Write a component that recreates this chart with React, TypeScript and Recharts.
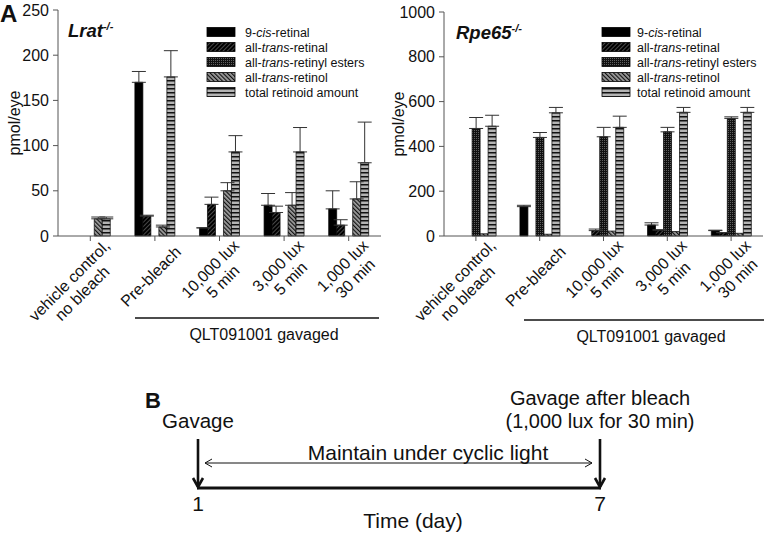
import React from 'react';
import { BarChart, Bar, XAxis, YAxis, ErrorBar, Legend } from 'recharts';

const FONT = "'Liberation Sans', Arial, Helvetica, sans-serif";

// ---------- data ----------
const categories = ['vehicle control,|no bleach', 'Pre-bleach', '10,000 lux|5 min', '3,000 lux|5 min', '1,000 lux|30 min'];
const seriesKeys = ['cis', 'trans', 'esters', 'retinol', 'total'];
const seriesNames = ['9-*cis*-retinal', 'all-*trans*-retinal', 'all-*trans*-retinyl esters', 'all-*trans*-retinol', 'total retinoid amount'];

// Lrat-/-
const lratCis = [0, 170, 9, 34, 30];
const lratCisErr = [0, 12, 0, 13, 20];
const lratTrans = [0, 22, 35, 26, 12];
const lratTransErr = [0, 1, 8, 7, 6];
const lratEsters = [0, 0, 0, 0, 0];
const lratEstersErr = [0, 0, 0, 0, 0];
const lratRetinol = [19, 10, 50, 34, 41];
const lratRetinolErr = [2, 2, 9, 14, 19];
const lratTotal = [19, 176, 93, 93, 81];
const lratTotalErr = [2, 29, 18, 27, 45];

// Rpe65-/-
const rpeCis = [0, 131, 0, 49, 24];
const rpeCisErr = [0, 6, 0, 10, 2];
const rpeTrans = [0, 0, 24, 27, 15];
const rpeTransErr = [0, 0, 7, 0, 0];
const rpeEsters = [480, 440, 443, 465, 525];
const rpeEstersErr = [49, 22, 42, 20, 7];
const rpeRetinol = [10, 8, 22, 20, 12];
const rpeRetinolErr = [0, 0, 0, 0, 0];
const rpeTotal = [490, 550, 485, 552, 552];
const rpeTotalErr = [49, 24, 50, 22, 22];

const lratTicks = [0, 50, 100, 150, 200, 250];
const rpeTicks = [0, 200, 400, 600, 800, 1000];

function buildData(vals: number[][], errs: number[][]) {
  return categories.map((name, i) => {
    const row: any = { name };
    seriesKeys.forEach((k, s) => {
      row[k] = vals[s][i];
      row[k + 'Err'] = [0, errs[s][i]];
    });
    return row;
  });
}

const lratVals = [lratCis, lratTrans, lratEsters, lratRetinol, lratTotal];
const lratErrs = [lratCisErr, lratTransErr, lratEstersErr, lratRetinolErr, lratTotalErr];
const rpeVals = [rpeCis, rpeTrans, rpeEsters, rpeRetinol, rpeTotal];
const rpeErrs = [rpeCisErr, rpeTransErr, rpeEstersErr, rpeRetinolErr, rpeTotalErr];

const lratData = buildData(lratVals, lratErrs);
const rpeData = buildData(rpeVals, rpeErrs);

// ---------- helpers ----------
let ctx: CanvasRenderingContext2D | null = null;
function textWidth(s: string, size: number) {
  if (!ctx) ctx = document.createElement('canvas').getContext('2d');
  if (!ctx) return s.length * size * 0.55;
  ctx.font = `${size}px ${FONT}`;
  return ctx.measureText(s).width;
}

const RotTick = (props: any) => {
  const { x, y, payload } = props;
  const lines = String(payload.value).split('|');
  const fs = 16;
  const lh = 18;
  const W = Math.max(...lines.map((l) => textWidth(l, fs)));
  const n = lines.length;
  return (
    <g transform={`translate(${x + 23},${y + 6}) rotate(-45)`}>
      {lines.map((l, i) => (
        <text
          key={i}
          x={-W / 2}
          y={(i - (n - 1) / 2) * lh + fs * 0.36}
          textAnchor="middle"
          fontSize={fs}
          fontFamily={FONT}
          fill="#111"
        >
          {l}
        </text>
      ))}
    </g>
  );
};

function RichName({ s }: { s: string }) {
  const parts = s.split('*');
  return (
    <>
      {parts.map((p, i) =>
        i % 2 === 1 ? (
          <tspan key={i} fontStyle="italic">
            {p}
          </tspan>
        ) : (
          <tspan key={i}>{p}</tspan>
        )
      )}
    </>
  );
}

function Patterns({ p }: { p: string }) {
  return (
    <defs>
      <pattern id={`${p}-trans`} width="3" height="3" patternUnits="userSpaceOnUse" patternTransform="rotate(45)">
        <rect width="3" height="3" fill="#000" />
        <rect width="1" height="3" fill="#484848" />
      </pattern>
      <pattern id={`${p}-esters`} width="2" height="2" patternUnits="userSpaceOnUse">
        <rect width="2" height="2" fill="#111" />
        <rect width="1" height="1" fill="#606060" />
      </pattern>
      <pattern id={`${p}-retinol`} width="3" height="3" patternUnits="userSpaceOnUse" patternTransform="rotate(-45)">
        <rect width="3" height="3" fill="#a0a0a0" />
        <rect width="1.2" height="3" fill="#111" />
      </pattern>
      <pattern id={`${p}-total`} width="4" height="4" patternUnits="userSpaceOnUse">
        <rect width="4" height="4" fill="#b4b4b4" />
        <rect width="4" height="1.5" fill="#111" />
      </pattern>
    </defs>
  );
}

function fillFor(p: string, k: string) {
  if (k === 'cis') return '#000';
  return `url(#${p}-${k})`;
}

function LegendBox({ p, textGap }: { p: string; textGap: number }) {
  return (
    <svg width={190} height={80} style={{ overflow: 'visible' }}>
      {seriesKeys.map((k, i) => (
        <g key={k}>
          <rect x={0} y={3.5 + i * 15} width={28} height={9} fill={fillFor(p, k)} stroke="#000" strokeWidth={0.8} />
          <text x={28 + textGap} y={8 + i * 15 + 4.5} fontSize={12.5} fontFamily={FONT} fill="#111">
            <RichName s={seriesNames[i]} />
          </text>
        </g>
      ))}
    </svg>
  );
}

interface PanelProps {
  p: string;
  data: any[];
  ticks: number[];
  width: number;
  height: number;
  margin: any;
  yWidth: number;
  legendX: number;
  textGap: number;
  errs: number[][];
}

function Panel({ p, data, ticks, width, height, margin, yWidth, legendX, textGap, errs }: PanelProps) {
  return (
    <BarChart width={width} height={height} data={data} margin={margin} barCategoryGap="19%" barGap={0}>
      <Patterns p={p} />
      <XAxis
        dataKey="name"
        interval={0}
        height={144}
        tick={<RotTick />}
        tickSize={5}
        tickLine={{ stroke: '#555' }}
        axisLine={{ stroke: '#555' }}
      />
      <XAxis
        xAxisId="top"
        orientation="top"
        dataKey="name"
        height={0}
        tick={false}
        tickLine={false}
        axisLine={{ stroke: '#8a8a8a' }}
      />
      <YAxis
        domain={[ticks[0], ticks[ticks.length - 1]]}
        ticks={ticks}
        width={yWidth}
        tickSize={5}
        tickMargin={4}
        tick={{ fontSize: 16, fill: '#111', fontFamily: FONT }}
        tickLine={{ stroke: '#555' }}
        axisLine={{ stroke: '#555' }}
        interval={0}
      />
      <YAxis yAxisId="r" orientation="right" width={0} tick={false} tickLine={false} axisLine={{ stroke: '#8a8a8a' }} />
      <Legend
        layout="horizontal"
        verticalAlign="middle"
        align="center"
        wrapperStyle={{ position: 'absolute', left: legendX, top: 24, width: 190, height: 80 }}
        content={() => <LegendBox p={p} textGap={textGap} />}
      />
      {seriesKeys.map((k, s) => (
        <Bar key={k} dataKey={k} fill={fillFor(p, k)} stroke="#000" strokeWidth={0.7} isAnimationActive={false}>
          {errs[s].some((e) => e > 0) ? (
            <ErrorBar dataKey={k + 'Err'} width={7} stroke="#333" strokeWidth={1} direction="y" />
          ) : null}
        </Bar>
      ))}
    </BarChart>
  );
}

const txt = { fontFamily: FONT, fill: '#111' } as const;

function Arrow({ x, y1, y2 }: { x: number; y1: number; y2: number }) {
  return (
    <g stroke="#111" strokeWidth={2.6} fill="none" strokeLinecap="butt">
      <line x1={x} y1={y1} x2={x} y2={y2} />
      <polyline points={`${x - 5},${y2 - 9} ${x},${y2} ${x + 5},${y2 - 9}`} />
    </g>
  );
}

export default function App() {
  return (
    <div style={{ position: 'absolute', left: 0, top: 0, width: 768, height: 536, background: '#fff', overflow: 'hidden' }}>
      <div style={{ position: 'absolute', left: 0, top: 0 }}>
        <Panel
          p="L"
          data={lratData}
          ticks={lratTicks}
          width={384}
          height={380}
          margin={{ top: 10, right: 3, left: 0, bottom: 0 }}
          yWidth={58}
          legendX={207}
          textGap={10}
          errs={lratErrs}
        />
      </div>
      <div style={{ position: 'absolute', left: 384, top: 0 }}>
        <Panel
          p="R"
          data={rpeData}
          ticks={rpeTicks}
          width={384}
          height={380}
          margin={{ top: 12, right: 5, left: 0, bottom: 0 }}
          yWidth={60}
          legendX={218}
          textGap={7}
          errs={rpeErrs}
        />
      </div>
      <svg width={768} height={536} style={{ position: 'absolute', left: 0, top: 0, pointerEvents: 'none' }}>
        {/* Panel A labels */}
        <text x={0} y={22} fontSize={24} fontWeight="bold" {...txt}>A</text>
        <text x={68} y={37} fontSize={18.5} fontWeight="bold" fontStyle="italic" {...txt}>
          Lrat<tspan fontSize={11} dy={-7}>-/-</tspan>
        </text>
        <text x={456} y={39} fontSize={18.5} fontWeight="bold" fontStyle="italic" {...txt}>
          Rpe65<tspan fontSize={11} dy={-7}>-/-</tspan>
        </text>
        <text transform="translate(20,123) rotate(-90)" textAnchor="middle" fontSize={16} {...txt}>pmol/eye</text>
        <text transform="translate(404,124) rotate(-90)" textAnchor="middle" fontSize={16} {...txt}>pmol/eye</text>

        <line x1={135} y1={318} x2={379} y2={318} stroke="#111" strokeWidth={1.6} />
        <text x={264} y={340} textAnchor="middle" fontSize={16} {...txt}>QLT091001 gavaged</text>
        <line x1={524} y1={320} x2={764} y2={320} stroke="#111" strokeWidth={1.6} />
        <text x={651} y={342} textAnchor="middle" fontSize={16} {...txt}>QLT091001 gavaged</text>

        {/* Panel B */}
        <text x={145} y={408} fontSize={22} fontWeight="bold" {...txt}>B</text>
        <text x={198} y={428} textAnchor="middle" fontSize={20.5} {...txt}>Gavage</text>
        <text x={600} y={405} textAnchor="middle" fontSize={20} {...txt}>Gavage after bleach</text>
        <text x={600} y={428} textAnchor="middle" fontSize={20} {...txt}>(1,000 lux for 30 min)</text>
        <Arrow x={198} y1={439} y2={487} />
        <Arrow x={600} y1={439} y2={487} />
        <line x1={197} y1={488} x2={601} y2={488} stroke="#111" strokeWidth={3} />
        <text x={428} y={460} textAnchor="middle" fontSize={21} {...txt}>Maintain under cyclic light</text>
        <g stroke="#111" strokeWidth={1} fill="none">
          <line x1={205} y1={463} x2={592} y2={463} />
          <polyline points="212,459 205,463 212,467" />
          <polyline points="585,459 592,463 585,467" />
        </g>
        <text x={198} y={511} textAnchor="middle" fontSize={21} {...txt}>1</text>
        <text x={600} y={511} textAnchor="middle" fontSize={21} {...txt}>7</text>
        <text x={413} y={528} textAnchor="middle" fontSize={21} {...txt}>Time (day)</text>
      </svg>
    </div>
  );
}
